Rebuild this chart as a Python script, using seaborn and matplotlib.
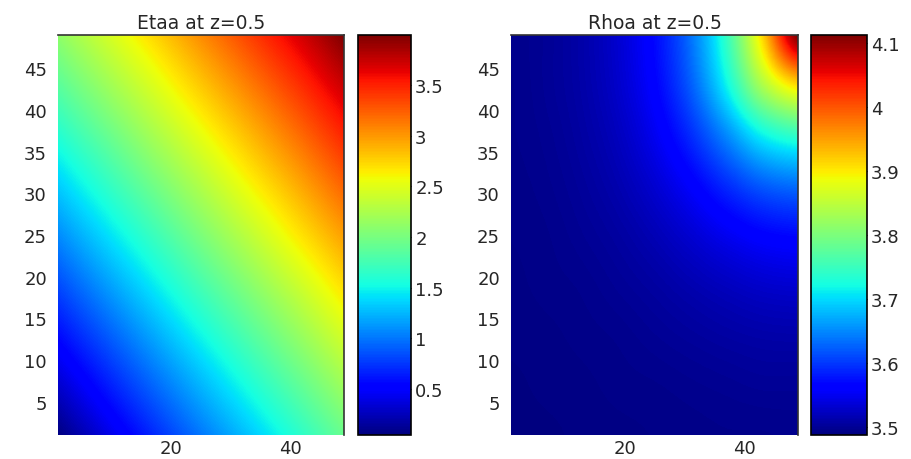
import numpy as np
import matplotlib
matplotlib.use("Agg")
import matplotlib.pyplot as plt
import seaborn as sns

# ---- data ----
# Etaa: sample positions and values (rows = y ascending, cols = x ascending)
ETA_X = [1, 9, 17, 25, 33, 41, 49]
ETA_Y = [1, 9, 17, 25, 33, 41, 49]
ETA_VALUES = [
    [0.05, 0.38, 0.69, 1.00, 1.30, 1.61, 1.93],
    [0.40, 0.71, 1.02, 1.33, 1.64, 1.95, 2.27],
    [0.74, 1.05, 1.36, 1.67, 1.98, 2.29, 2.62],
    [1.08, 1.39, 1.70, 2.02, 2.33, 2.65, 2.97],
    [1.42, 1.73, 2.05, 2.36, 2.68, 2.99, 3.31],
    [1.77, 2.08, 2.39, 2.71, 3.02, 3.33, 3.65],
    [2.11, 2.42, 2.73, 3.05, 3.36, 3.67, 3.99],
]
ETA_CLIM = [0.046, 3.994]
ETA_TICKS = [0.5, 1, 1.5, 2, 2.5, 3, 3.5]
ETA_TICKLABELS = ["0.5", "1", "1.5", "2", "2.5", "3", "3.5"]

# Rhoa: sample positions and values (rows = y ascending, cols = x ascending)
RHO_X = [1, 7, 13, 19, 25, 31, 37, 43, 49]
RHO_Y = [1, 7, 13, 19, 25, 31, 37, 43, 49]
RHO_VALUES = [
    [3.490, 3.490, 3.491, 3.492, 3.493, 3.494, 3.495, 3.495, 3.496],
    [3.490, 3.491, 3.492, 3.494, 3.495, 3.497, 3.499, 3.501, 3.501],
    [3.491, 3.492, 3.494, 3.496, 3.500, 3.504, 3.508, 3.511, 3.512],
    [3.492, 3.494, 3.496, 3.501, 3.507, 3.515, 3.523, 3.530, 3.533],
    [3.493, 3.495, 3.500, 3.507, 3.518, 3.533, 3.550, 3.564, 3.570],
    [3.494, 3.497, 3.504, 3.515, 3.533, 3.559, 3.592, 3.622, 3.635],
    [3.495, 3.499, 3.508, 3.523, 3.550, 3.592, 3.650, 3.714, 3.744],
    [3.495, 3.501, 3.511, 3.530, 3.564, 3.622, 3.714, 3.834, 3.910],
    [3.496, 3.501, 3.512, 3.533, 3.570, 3.635, 3.744, 3.910, 4.110],
]
RHO_CLIM = [3.488, 4.112]
RHO_TICKS = [3.5, 3.6, 3.7, 3.8, 3.9, 4.0, 4.1]
RHO_TICKLABELS = ["3.5", "3.6", "3.7", "3.8", "3.9", "4", "4.1"]

TITLES = ["Etaa at z=0.5", "Rhoa at z=0.5"]
X_TICKS = [20, 40]
Y_TICKS = [5, 10, 15, 20, 25, 30, 35, 40, 45]

# ---- style ----
sns.set_style("white")
plt.rcParams["font.family"] = ["DejaVu Sans"]
TEXT_COLOR = "#262626"

W, H = 912, 460
fig = plt.figure(figsize=(W / 100, H / 100), dpi=100)
fig.patch.set_facecolor("white")


def box(x0, x1, y0, y1):
    return [x0 / W, 1 - y1 / H, (x1 - x0) / W, (y1 - y0) / H]


panels = [
    dict(x=ETA_X, y=ETA_Y, v=ETA_VALUES, clim=ETA_CLIM, ticks=ETA_TICKS,
         labels=ETA_TICKLABELS, interp="bilinear",
         ax=box(58, 344, 36, 436), cax=box(358, 411, 36, 436)),
    dict(x=RHO_X, y=RHO_Y, v=RHO_VALUES, clim=RHO_CLIM, ticks=RHO_TICKS,
         labels=RHO_TICKLABELS, interp="catrom",
         ax=box(511, 798, 36, 436), cax=box(811, 867, 36, 436)),
]

for p, title in zip(panels, TITLES):
    ax = fig.add_axes(p["ax"])
    cax = fig.add_axes(p["cax"])
    xs, ys = p["x"], p["y"]
    dx = (xs[-1] - xs[0]) / (len(xs) - 1)
    dy = (ys[-1] - ys[0]) / (len(ys) - 1)
    # sample values sit at pixel centres; axes are cropped to the sample span
    img = ax.imshow(np.array(p["v"]), origin="lower", cmap="jet",
                    vmin=p["clim"][0], vmax=p["clim"][1],
                    interpolation=p["interp"], aspect="auto",
                    extent=[xs[0] - dx / 2, xs[-1] + dx / 2,
                            ys[0] - dy / 2, ys[-1] + dy / 2])
    ax.set_xlim(xs[0], xs[-1])
    ax.set_ylim(ys[0], ys[-1])
    ax.set_xticks(X_TICKS)
    ax.set_yticks(Y_TICKS)
    ax.tick_params(axis="both", length=0, labelsize=13, colors=TEXT_COLOR)
    ax.tick_params(axis="y", pad=8)
    ax.tick_params(axis="x", pad=3)
    for side in ["left", "bottom"]:
        ax.spines[side].set_visible(False)
    for side in ["top", "right"]:
        ax.spines[side].set_visible(True)
        ax.spines[side].set_color("#333333")
        ax.spines[side].set_linewidth(1.2)
    ax.set_title(title, fontsize=13.5, color=TEXT_COLOR, pad=5)

    cb = fig.colorbar(img, cax=cax)
    cb.set_ticks(p["ticks"])
    cb.set_ticklabels(p["labels"])
    cb.outline.set_edgecolor("black")
    cb.outline.set_linewidth(1.2)
    cax.tick_params(axis="y", direction="in", length=5, width=0.8, color="black",
                    left=True, right=True, labelleft=False, labelright=True,
                    labelsize=13, labelcolor=TEXT_COLOR, pad=3)

fig.savefig("out.png", dpi=100, facecolor="white")
